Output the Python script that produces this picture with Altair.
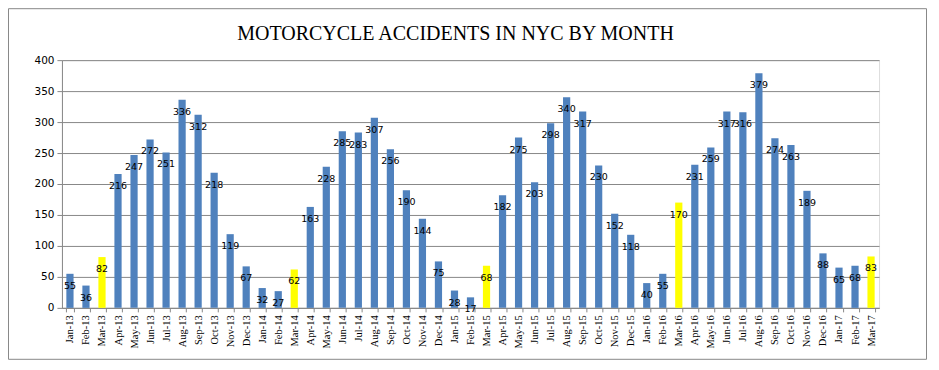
import altair as alt
import pandas as pd

months = [
    "Jan-13", "Feb-13", "Mar-13", "Apr-13", "May-13", "Jun-13", "Jul-13", "Aug-13", "Sep-13", "Oct-13", "Nov-13", "Dec-13",
    "Jan-14", "Feb-14", "Mar-14", "Apr-14", "May-14", "Jun-14", "Jul-14", "Aug-14", "Sep-14", "Oct-14", "Nov-14", "Dec-14",
    "Jan-15", "Feb-15", "Mar-15", "Apr-15", "May-15", "Jun-15", "Jul-15", "Aug-15", "Sep-15", "Oct-15", "Nov-15", "Dec-15",
    "Jan-16", "Feb-16", "Mar-16", "Apr-16", "May-16", "Jun-16", "Jul-16", "Aug-16", "Sep-16", "Oct-16", "Nov-16", "Dec-16",
    "Jan-17", "Feb-17", "Mar-17",
]
accidents = [
    55, 36, 82, 216, 247, 272, 251, 336, 312, 218, 119, 67,
    32, 27, 62, 163, 228, 285, 283, 307, 256, 190, 144, 75,
    28, 17, 68, 182, 275, 203, 298, 340, 317, 230, 152, 118,
    40, 55, 170, 231, 259, 317, 316, 379, 274, 263, 189, 88,
    65, 68, 83,
]
y_ticks = [0, 50, 100, 150, 200, 250, 300, 350, 400]
title_text = "MOTORCYCLE ACCIDENTS IN NYC BY MONTH"

df = pd.DataFrame({
    "month": months,
    "accidents": accidents,
    "group": ["March" if m.startswith("Mar") else "Other" for m in months],
})

W, H = 818, 248
GRAY = "#888888"

x = alt.X("month:N", sort=None, title=None,
          scale=alt.Scale(paddingInner=0.55, paddingOuter=0.275),
          axis=alt.Axis(labelAngle=-90, labelFont="Liberation Serif", labelFontSize=10.5,
                        labelColor="#000000", labelPadding=3, tickBand="extent", tickSize=4,
                        tickColor=GRAY, domainColor=GRAY, grid=False))
y = alt.Y("accidents:Q", title=None,
          scale=alt.Scale(domain=[0, 400], nice=False),
          axis=alt.Axis(values=y_ticks, tickCount=len(y_ticks), format="d", labelFont="DejaVu Sans",
                        labelFontSize=10.5, labelColor="#000000", labelPadding=3, tickSize=5,
                        tickColor=GRAY, domainColor=GRAY, gridColor=GRAY, grid=True))

base = alt.Chart(df)

bars = base.mark_bar().encode(
    x=x, y=y,
    color=alt.Color("group:N", scale=alt.Scale(domain=["Other", "March"], range=["#4F81BD", "#FFFF00"]), legend=None),
)

labels = base.mark_text(font="DejaVu Sans", fontSize=9.5, color="#000000", dy=12, baseline="middle").encode(
    x=alt.X("month:N", sort=None), y=alt.Y("accidents:Q"), text=alt.Text("accidents:Q", format="d"),
)

one = pd.DataFrame({"t": [title_text]})

frame = alt.Chart(one).mark_rect(
    fillOpacity=0, stroke=GRAY, strokeWidth=1, clip=False
).encode(x=alt.value(-53.5), x2=alt.value(865.5), y=alt.value(-51.5), y2=alt.value(299.5))

title = alt.Chart(one).mark_text(
    font="Liberation Serif", fontSize=20, color="#000000", align="center", baseline="alphabetic", clip=False
).encode(text="t:N", x=alt.value(394), y=alt.value(-20))

chart = alt.layer(bars, labels, frame, title).properties(
    width=W, height=H,
    autosize=alt.AutoSizeParams(type="none"),
    padding={"left": 54, "top": 52, "right": 52, "bottom": 54},
).configure_view(stroke="transparent").configure(background="white")

chart.save("out.html", embed_options={"renderer": "svg", "actions": False})
